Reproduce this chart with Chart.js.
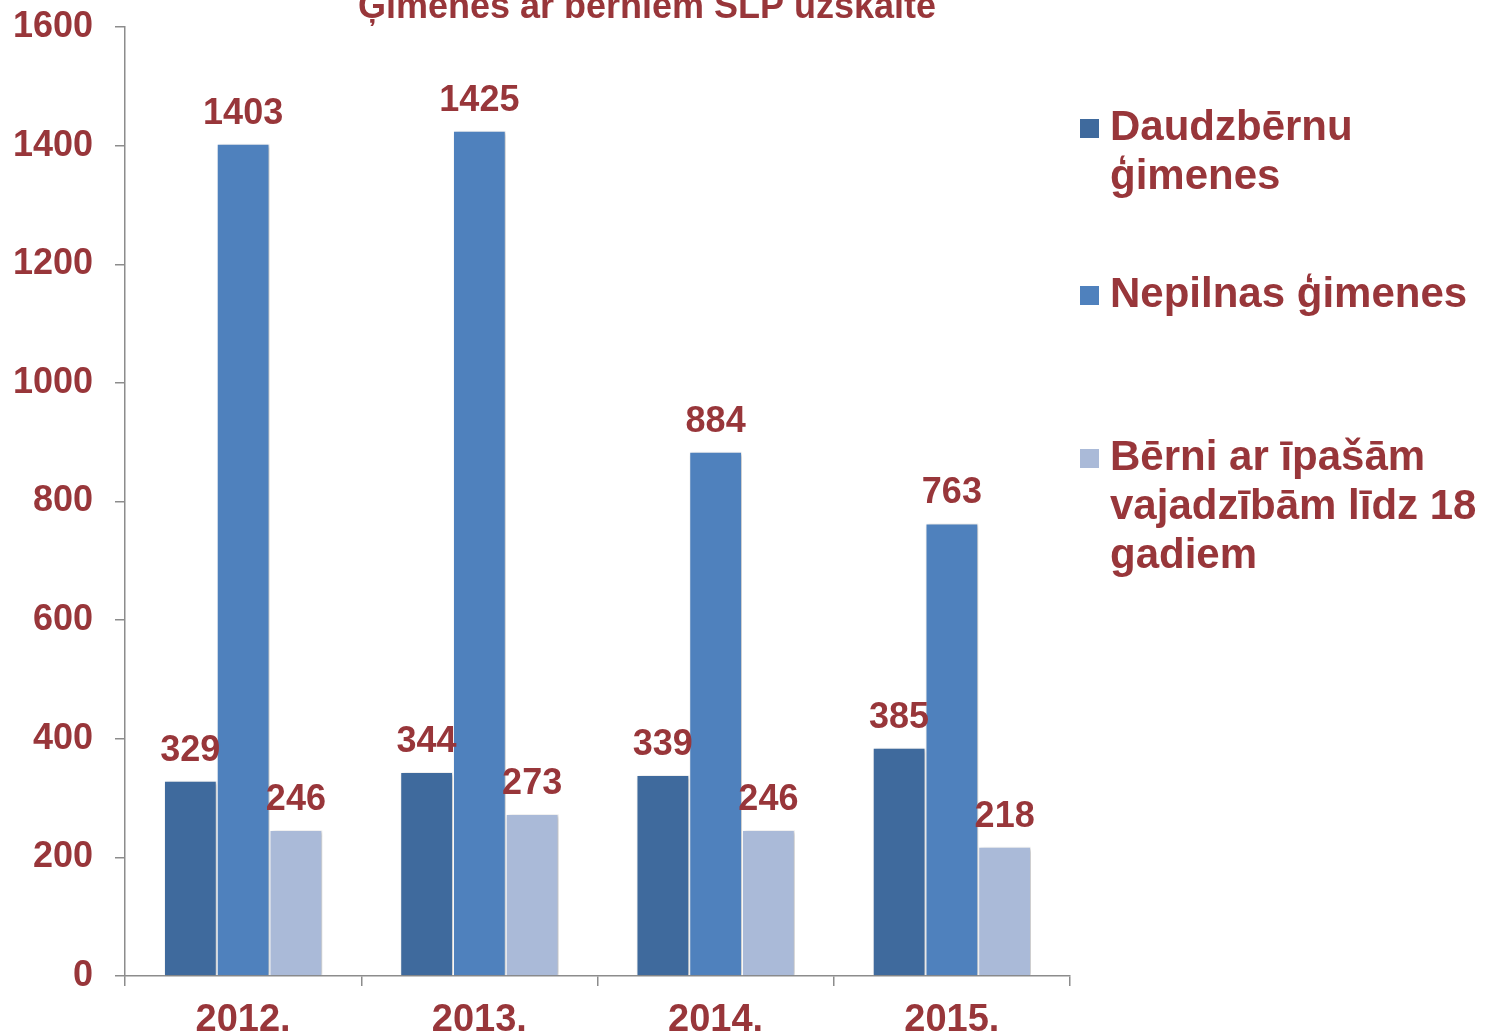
<!DOCTYPE html>
<html>
<head>
<meta charset="utf-8">
<script src="https://cdn.jsdelivr.net/npm/chart.js@4/dist/chart.umd.min.js"></script>
<style>
  body { margin: 0; background: #fff; }
  #wrap { width: 1485px; height: 1035px; position: relative; }
</style>
</head>
<body>
<div id="wrap"><canvas id="slpChart"></canvas></div>
<script>
const years = ['2012.', '2013.', '2014.', '2015.'];
const daudzbernu = [329, 344, 339, 385];
const nepilnas = [1403, 1425, 884, 763];
const ipasas = [246, 273, 246, 218];
const yTicks = [0, 200, 400, 600, 800, 1000, 1200, 1400, 1600];
const seriesNames = [
    ['Daudzbērnu', 'ģimenes'],
    ['Nepilnas ģimenes'],
    ['Bērni ar īpašām', 'vajadzībām līdz 18', 'gadiem']
];
const chartTitle = 'Ģimenes ar bērniem SLP uzskaitē';

const red = '#98363A';
const font = '"Liberation Sans", Arial, sans-serif';

// shadows under the bars, then value labels, title and legend on top
const decorPlugin = {
    id: 'decor',
    beforeDatasetsDraw(chart) {
        const ctx = chart.ctx;
        ctx.save();
        ctx.shadowColor = 'rgba(0,0,0,0.25)';
        ctx.shadowBlur = 4;
        ctx.shadowOffsetX = 2;
        ctx.shadowOffsetY = 1;
    },
    afterDatasetsDraw(chart) {
        const ctx = chart.ctx;
        ctx.restore();
        ctx.save();
        ctx.fillStyle = red;
        ctx.font = 'bold 36px ' + font;
        ctx.textAlign = 'center';
        ctx.textBaseline = 'alphabetic';
        chart.data.datasets.forEach((ds, i) => {
            chart.getDatasetMeta(i).data.forEach((bar, j) => {
                ctx.fillText(String(ds.data[j]), bar.x, bar.y - 20);
            });
        });
        ctx.restore();
    },
    afterDraw(chart) {
        const ctx = chart.ctx;
        ctx.save();
        ctx.fillStyle = red;
        // title, partly cut off at the top like the reference
        ctx.font = 'bold 36px ' + font;
        ctx.textAlign = 'center';
        ctx.textBaseline = 'alphabetic';
        ctx.fillText(chartTitle, 647, 18);

        // legend
        const firstBaselines = [140, 307, 470];
        ctx.textAlign = 'left';
        ctx.font = 'bold 42px ' + font;
        chart.data.datasets.forEach((ds, i) => {
            const base = firstBaselines[i];
            ctx.fillStyle = ds.backgroundColor;
            ctx.fillRect(1080, base - 21, 19, 19);
            ctx.fillStyle = red;
            ds.label.forEach((line, k) => {
                ctx.fillText(line, 1110, base + k * 49);
            });
        });
        ctx.restore();
    }
};

new Chart(document.getElementById('slpChart'), {
    type: 'bar',
    data: {
        labels: years,
        datasets: [
            { label: seriesNames[0], data: daudzbernu, backgroundColor: '#3F6A9D' },
            { label: seriesNames[1], data: nepilnas, backgroundColor: '#4F81BD' },
            { label: seriesNames[2], data: ipasas, backgroundColor: '#AABAD8' }
        ].map(ds => Object.assign(ds, {
            borderColor: '#ffffff',
            borderWidth: 1,
            categoryPercentage: 0.67,
            barPercentage: 1.0
        }))
    },
    options: {
        responsive: true,
        maintainAspectRatio: false,
        animation: false,
        layout: { padding: { left: 0, top: 27, right: 415, bottom: 0 } },
        plugins: {
            legend: { display: false },
            title: { display: false },
            tooltip: { enabled: false }
        },
        scales: {
            x: {
                afterFit: scale => {
                    scale.height = 59;
                    scale.paddingLeft = 0;
                    scale.paddingRight = 0;
                },
                grid: {
                    drawOnChartArea: false,
                    offset: true,
                    tickLength: 10,
                    color: '#8c8c8c',
                    lineWidth: 1.5
                },
                border: { color: '#8c8c8c', width: 1.5 },
                ticks: {
                    color: red,
                    padding: 12,
                    font: { family: font, size: 38, weight: 'bold' }
                }
            },
            y: {
                min: 0,
                max: 1600,
                afterFit: scale => {
                    scale.width = 125;
                    scale.paddingTop = 0;
                    scale.paddingBottom = 0;
                },
                afterBuildTicks: scale => {
                    scale.ticks = yTicks.map(v => ({ value: v }));
                },
                grid: {
                    drawOnChartArea: false,
                    tickLength: 10,
                    color: '#8c8c8c',
                    lineWidth: 1.5
                },
                border: { color: '#8c8c8c', width: 1.5 },
                ticks: {
                    color: red,
                    padding: 22,
                    callback: v => String(v),
                    font: { family: font, size: 36, weight: 'bold' }
                }
            }
        }
    },
    plugins: [decorPlugin]
});
</script>
</body>
</html>
